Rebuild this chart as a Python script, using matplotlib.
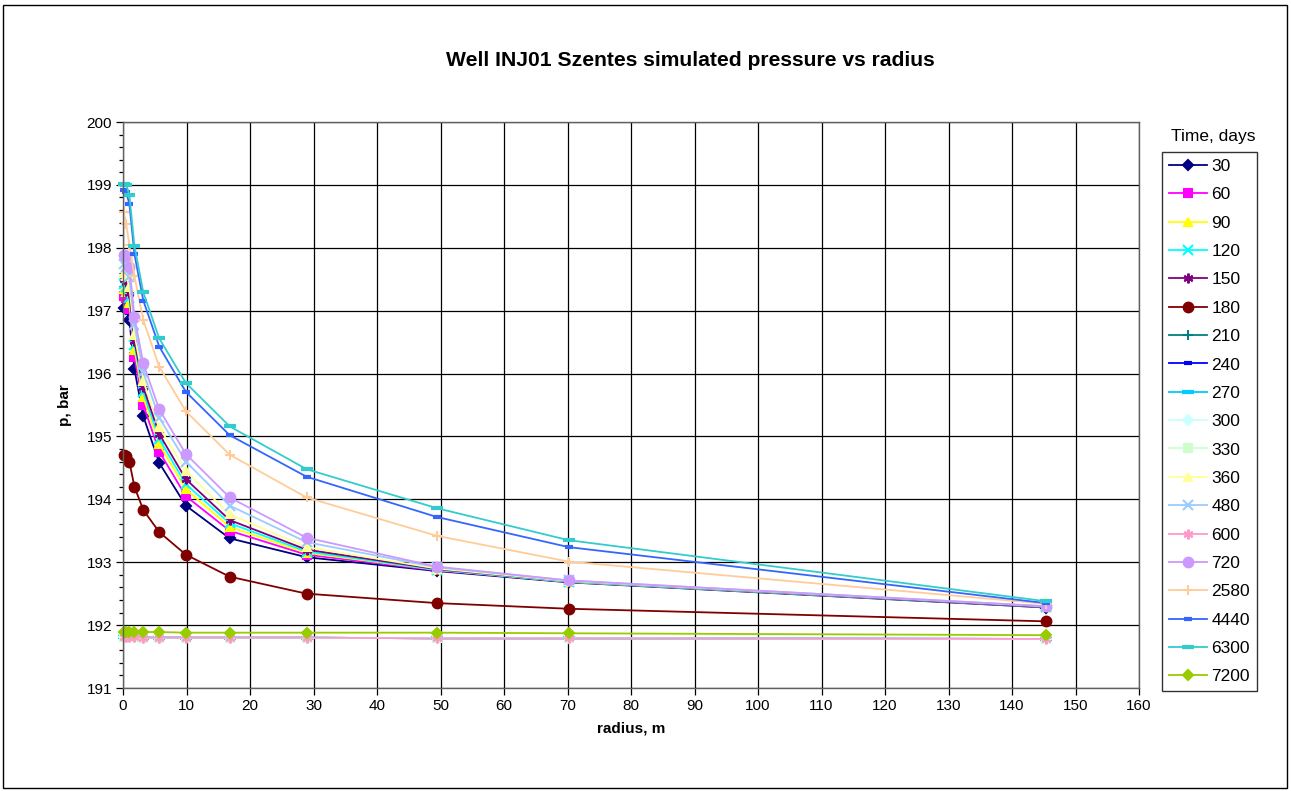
import matplotlib
matplotlib.use("Agg")
import matplotlib.pyplot as plt
from matplotlib.patches import Rectangle
from matplotlib.ticker import MultipleLocator

plt.rcParams['font.family'] = ['Liberation Sans', 'DejaVu Sans']

radius = [0.1, 0.5, 1.0, 1.8, 3.2, 5.7, 9.9, 16.8, 28.9, 49.4, 70.2, 145.3]

times = ["30", "60", "90", "120", "150", "180", "210", "240", "270", "300",
         "330", "360", "480", "600", "720", "2580", "4440", "6300", "7200"]

p_30 = [197.05, 197.02, 196.85, 196.07, 195.32, 194.58, 193.90, 193.38, 193.08, 192.86, 192.68, 192.28]
p_60 = [197.24, 197.20, 197.02, 196.26, 195.50, 194.76, 194.05, 193.50, 193.12, 192.87, 192.69, 192.29]
p_90 = [197.34, 197.30, 197.12, 196.38, 195.62, 194.88, 194.16, 193.56, 193.15, 192.88, 192.69, 192.29]
p_120 = [197.42, 197.38, 197.20, 196.46, 195.70, 194.96, 194.24, 193.62, 193.17, 192.88, 192.69, 192.29]
p_150 = [197.50, 197.45, 197.28, 196.52, 195.78, 195.04, 194.32, 193.67, 193.20, 192.89, 192.70, 192.29]
p_180 = [194.71, 194.69, 194.60, 194.20, 193.83, 193.48, 193.12, 192.77, 192.50, 192.35, 192.26, 192.06]
p_210 = [191.81, 191.81, 191.81, 191.81, 191.80, 191.80, 191.80, 191.80, 191.80, 191.79, 191.79, 191.78]
p_240 = [191.81, 191.81, 191.81, 191.81, 191.80, 191.80, 191.80, 191.80, 191.80, 191.79, 191.79, 191.78]
p_270 = [191.81, 191.81, 191.81, 191.81, 191.80, 191.80, 191.80, 191.80, 191.80, 191.79, 191.79, 191.78]
p_300 = [191.81, 191.81, 191.81, 191.81, 191.80, 191.80, 191.80, 191.80, 191.80, 191.79, 191.79, 191.78]
p_330 = [191.81, 191.81, 191.81, 191.81, 191.80, 191.80, 191.80, 191.80, 191.80, 191.79, 191.79, 191.78]
p_360 = [197.60, 197.55, 197.38, 196.62, 195.88, 195.15, 194.45, 193.76, 193.24, 192.90, 192.70, 192.30]
p_480 = [197.75, 197.70, 197.53, 196.78, 196.02, 195.30, 194.60, 193.90, 193.32, 192.92, 192.71, 192.30]
p_600 = [191.81, 191.81, 191.81, 191.81, 191.80, 191.80, 191.80, 191.80, 191.80, 191.79, 191.79, 191.78]
p_720 = [197.89, 197.87, 197.70, 196.90, 196.16, 195.43, 194.72, 194.03, 193.39, 192.93, 192.71, 192.30]
p_2580 = [198.57, 198.38, 198.05, 197.55, 196.85, 196.11, 195.40, 194.71, 194.03, 193.42, 193.01, 192.34]
p_4440 = [198.92, 198.88, 198.70, 197.90, 197.16, 196.43, 195.71, 195.02, 194.36, 193.72, 193.24, 192.35]
p_6300 = [199.02, 199.00, 198.84, 198.03, 197.29, 196.56, 195.85, 195.16, 194.48, 193.86, 193.35, 192.38]
p_7200 = [191.89, 191.89, 191.89, 191.89, 191.89, 191.89, 191.88, 191.88, 191.88, 191.88, 191.87, 191.84]

series = [p_30, p_60, p_90, p_120, p_150, p_180, p_210, p_240, p_270, p_300,
          p_330, p_360, p_480, p_600, p_720, p_2580, p_4440, p_6300, p_7200]

colors = ["#000080", "#FF00FF", "#FFFF00", "#00FFFF", "#800080", "#800000",
          "#008080", "#0000FF", "#00CCFF", "#CCFFFF", "#CCFFCC", "#FFFF99",
          "#99CCFF", "#FF99CC", "#CC99FF", "#FFCC99", "#3366FF", "#33CCCC", "#99CC00"]

asterisk = (6, 2, 0)
markers = ["D", "s", "^", "x", asterisk, "o", "+", "_", "_", "D", "s", "^",
           "x", asterisk, "o", "+", "_", "_", "D"]
msizes = [5, 6, 6, 7, 7, 7, 7, 6, 8, 5, 6, 6, 7, 7, 7, 7, 6, 8, 5]

fig = plt.figure(figsize=(12.91, 7.91), dpi=100)
ax = fig.add_axes([123/1291, 1-688/791, (1139-123)/1291, (688-122)/791])

handles = []
for lab, vals, c, m, ms in zip(times, series, colors, markers, msizes):
    mew = 1.5
    if m == "_":
        mew = 3
    h, = ax.plot(radius, vals, color=c, lw=1.3, marker=m, markersize=ms,
                 markerfacecolor=c, markeredgecolor=c, markeredgewidth=mew,
                 label=lab, clip_on=False)
    handles.append(h)

ax.set_xlim(0, 160)
ax.set_ylim(191, 200)
ax.xaxis.set_major_locator(MultipleLocator(10))
ax.yaxis.set_major_locator(MultipleLocator(1))
ax.yaxis.set_minor_locator(MultipleLocator(0.2))
ax.grid(True, which="major", color="black", lw=0.9)
ax.tick_params(axis="both", which="major", direction="out", length=5, width=0.9,
               labelsize=11, colors="black", pad=3)
ax.tick_params(axis="y", which="minor", direction="out", length=3, width=0.9)
for s in ax.spines.values():
    s.set_color("#606060")
    s.set_linewidth(1.0)

ax.set_xlabel("radius, m", fontsize=11, fontweight="bold", labelpad=6)
ax.set_ylabel("p, bar", fontsize=11, fontweight="bold", labelpad=10)
fig.text(690/1291, 1-61/791, "Well INJ01 Szentes simulated pressure vs radius",
         ha="center", va="center", fontsize=15.2, fontweight="bold")

leg = fig.legend(handles=handles, loc="upper left",
                 bbox_to_anchor=(1162/1291, 1-152/791),
                 fontsize=12.5, frameon=True, fancybox=False, edgecolor="black",
                 labelspacing=0.76, handlelength=2.2, handletextpad=0.25,
                 borderpad=0.4, borderaxespad=0)
leg.get_frame().set_linewidth(1.0)
fig.text(1213/1291, 1-137/791, "Time, days", ha="center", va="center", fontsize=12.5)

fig.patches.append(Rectangle((3/1291, 3/791), 1284/1291, 783/791, transform=fig.transFigure,
                             fill=False, edgecolor="black", lw=1.0))

fig.savefig("out.png", dpi=100)
